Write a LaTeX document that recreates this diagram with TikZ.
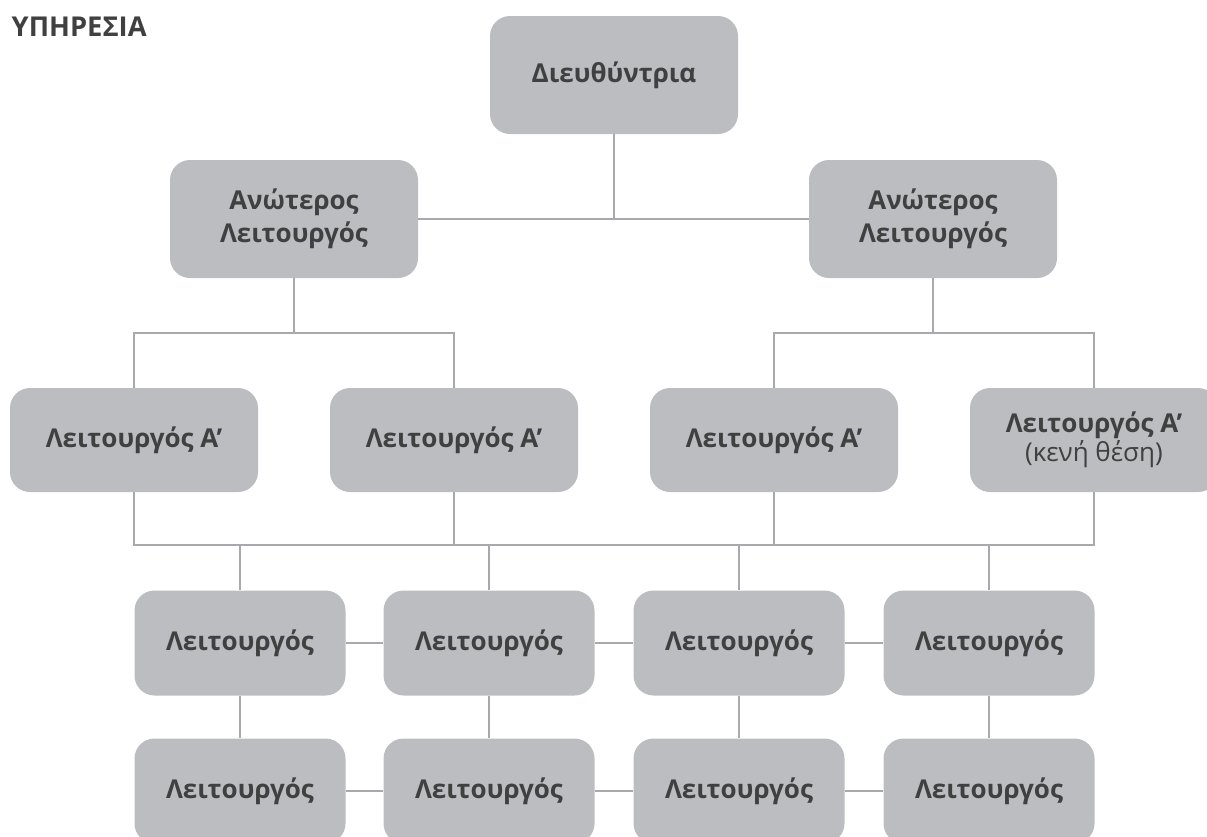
\documentclass[tikz,border=0pt]{standalone}
\usepackage{fontspec}
\setmainfont{Open Sans}
\usetikzlibrary{positioning}

\definecolor{boxgray}{HTML}{BCBDC0}
\definecolor{linegray}{HTML}{A7A9AC}
\definecolor{textgray}{HTML}{404040}

\tikzset{
 box/.style={rectangle, rounded corners=15pt, fill=boxgray, text=textgray,
  font=\bfseries\fontsize{19.5}{22}\selectfont, align=center, inner sep=0pt},
 topbox/.style={box, font=\bfseries\fontsize{19.5}{25}\selectfont,
  minimum width=186pt, minimum height=88.5pt},
 midbox/.style={box, minimum width=186pt, minimum height=78pt},
 lowbox/.style={box, minimum width=158.25pt, minimum height=78.75pt},
 link/.style={draw=linegray, line width=0.9pt}
}

\begin{document}
\begin{tikzpicture}[x=0.75pt, y=-0.75pt]
 \useasboundingbox (0,0) rectangle (1207,836);

 \node[anchor=west, text=textgray, font=\bfseries\fontsize{20.5}{22}\selectfont] (title) at (7,27) {ΥΠΗΡΕΣΙΑ};

 % top levels
 \node[topbox] (dir) at (614,75) {Διευθύντρια};
 \node[topbox] (senL) at (294,219) {Ανώτερος\\Λειτουργός};
 \node[topbox] (senR) at (933,219) {Ανώτερος\\Λειτουργός};

 % Λειτουργός Α'
 \foreach \n/\x in {1/134, 2/454, 3/774} {
  \node[midbox] (a\n) at (\x,440) {Λειτουργός Α’};
 }
 \node[midbox] (a4) at (1094,440) {Λειτουργός Α’\\{\mdseries(κενή θέση)}};

 % Λειτουργοί
 \foreach \n/\x in {1/240, 2/489, 3/739, 4/989} {
  \node[lowbox] (b\n) at (\x,643) {Λειτουργός};
  \node[lowbox] (c\n) at (\x,791) {Λειτουργός};
 }

 \coordinate (row1) at (0,333);
 \coordinate (row2) at (0,545);

 \draw[link] (dir.south) -- (dir.south |- senL.east);
 \draw[link] (senL.east) -- (senR.west);

 \draw[link] (senL.south) -- (senL.south |- row1);
 \draw[link] (senR.south) -- (senR.south |- row1);
 \draw[link] (a1.north) -- (a1.north |- row1) -- (a2.north |- row1) -- (a2.north);
 \draw[link] (a3.north) -- (a3.north |- row1) -- (a4.north |- row1) -- (a4.north);

 \draw[link] (a1.south) -- (a1.south |- row2) -- (a4.south |- row2) -- (a4.south);
 \draw[link] (a2.south) -- (a2.south |- row2);
 \draw[link] (a3.south) -- (a3.south |- row2);
 \foreach \n in {1,...,4} {
  \draw[link] (b\n.north) -- (b\n.north |- row2);
  \draw[link] (b\n.south) -- (c\n.north);
 }
 \foreach \n/\m in {1/2, 2/3, 3/4} {
  \draw[link] (b\n.east) -- (b\m.west);
  \draw[link] (c\n.east) -- (c\m.west);
 }
\end{tikzpicture}
\end{document}
